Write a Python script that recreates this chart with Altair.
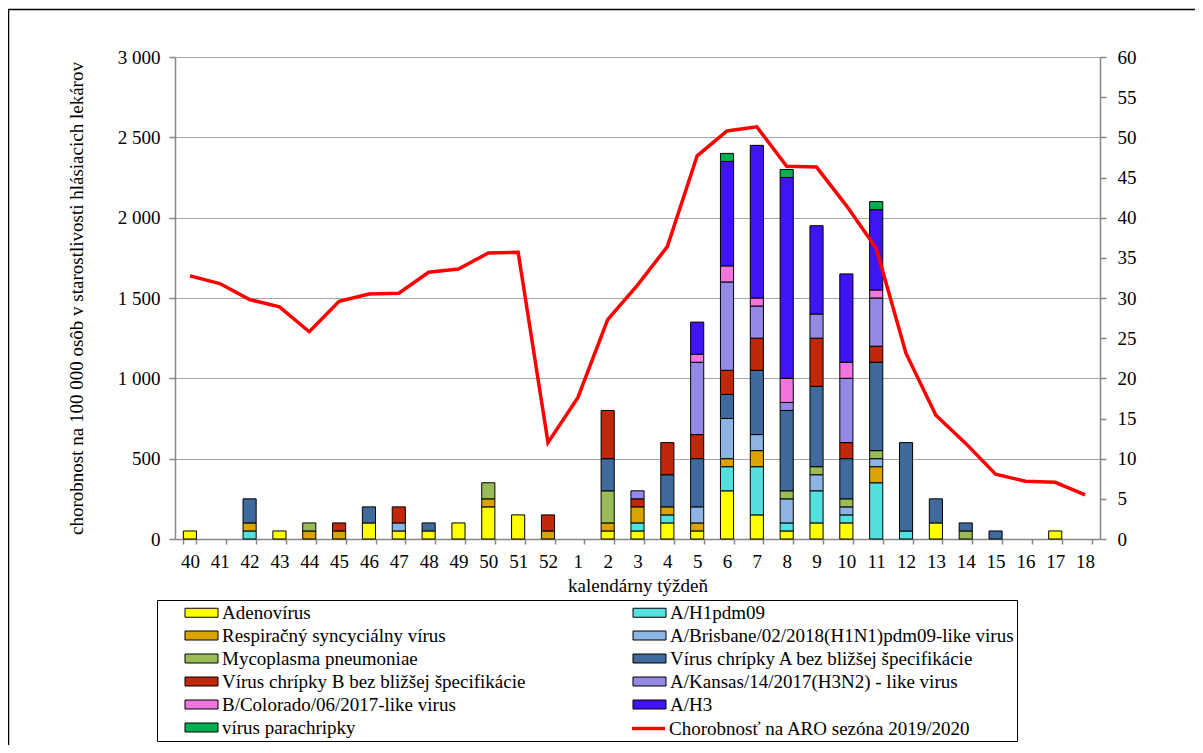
import altair as alt
import pandas as pd

weeks = ["40", "41", "42", "43", "44", "45", "46", "47", "48", "49", "50", "51", "52",
         "1", "2", "3", "4", "5", "6", "7", "8", "9", "10", "11", "12", "13", "14",
         "15", "16", "17", "18"]

series_names = [
    "Adenovírus",
    "A/H1pdm09",
    "Respiračný syncyciálny vírus",
    "A/Brisbane/02/2018(H1N1)pdm09-like virus",
    "Mycoplasma pneumoniae",
    "Vírus chrípky A bez bližšej špecifikácie",
    "Vírus chrípky B bez bližšej špecifikácie",
    "A/Kansas/14/2017(H3N2) - like virus",
    "B/Colorado/06/2017-like virus",
    "A/H3",
    "vírus parachripky",
]
line_name = "Chorobnosť na ARO sezóna 2019/2020"

#                40  41  42  43  44  45  46   47  48  49   50   51   52  1   2    3    4    5    6    7    8     9    10   11   12   13   14  15  16  17  18
adenovirus   = [50,  0,  0, 50,  0,  0, 100, 50, 50, 100, 200, 150,   0, 0,  50,  50, 100,  50, 300, 150,   50, 100, 100,   0,   0, 100,  0,  0,  0, 50,  0]
a_h1pdm09    = [ 0,  0, 50,  0,  0,  0,   0,  0,  0,   0,   0,   0,   0, 0,   0,  50,  50,   0, 150, 300,   50, 200,  50, 350,  50,   0,  0,  0,  0,  0,  0]
rsv          = [ 0,  0, 50,  0, 50, 50,   0,  0,  0,   0,  50,   0,  50, 0,  50, 100,  50,  50,  50, 100,    0,   0,   0, 100,   0,   0,  0,  0,  0,  0,  0]
a_brisbane   = [ 0,  0,  0,  0,  0,  0,   0, 50,  0,   0,   0,   0,   0, 0,   0,   0,   0, 100, 250, 100,  150, 100,  50,  50,   0,   0,  0,  0,  0,  0,  0]
mycoplasma   = [ 0,  0,  0,  0, 50,  0,   0,  0,  0,   0, 100,   0,   0, 0, 200,   0,   0,   0,   0,   0,   50,  50,  50,  50,   0,   0, 50,  0,  0,  0,  0]
virus_a      = [ 0,  0,150,  0,  0,  0, 100,  0, 50,   0,   0,   0,   0, 0, 200,   0, 200, 300, 150, 400,  500, 500, 250, 550, 550, 150, 50, 50,  0,  0,  0]
virus_b      = [ 0,  0,  0,  0,  0, 50,   0,100,  0,   0,   0,   0, 100, 0, 300,  50, 200, 150, 150, 200,    0, 300, 100, 100,   0,   0,  0,  0,  0,  0,  0]
a_kansas     = [ 0,  0,  0,  0,  0,  0,   0,  0,  0,   0,   0,   0,   0, 0,   0,  50,   0, 450, 550, 200,   50, 150, 400, 300,   0,   0,  0,  0,  0,  0,  0]
b_colorado   = [ 0,  0,  0,  0,  0,  0,   0,  0,  0,   0,   0,   0,   0, 0,   0,   0,   0,  50, 100,  50,  150,   0, 100,  50,   0,   0,  0,  0,  0,  0,  0]
a_h3         = [ 0,  0,  0,  0,  0,  0,   0,  0,  0,   0,   0,   0,   0, 0,   0,   0,   0, 200, 650, 950, 1250, 550, 550, 500,   0,   0,  0,  0,  0,  0,  0]
parachripka  = [ 0,  0,  0,  0,  0,  0,   0,  0,  0,   0,   0,   0,   0, 0,   0,   0,   0,   0,  50,   0,   50,   0,   0,  50,   0,   0,  0,  0,  0,  0,  0]

aro_rate = [32.75, 31.8, 29.8, 28.9, 25.8, 29.6, 30.5, 30.6, 33.2, 33.6, 35.6, 35.7, 12.0, 17.6,
            27.3, 31.6, 36.4, 47.7, 50.8, 51.3, 46.4, 46.3, 41.5, 36.2, 23.1, 15.4, 11.9, 8.06,
            7.2, 7.06, 5.48]

series_colors = ["#FFFF00", "#55E0E0", "#DAA400", "#8DB4E2", "#9BBB59", "#406A9C",
                 "#C0280B", "#9589E6", "#F075DC", "#4015F5", "#00B050"]
line_color = "#FF0000"

series_values = [adenovirus, a_h1pdm09, rsv, a_brisbane, mycoplasma, virus_a, virus_b,
                 a_kansas, b_colorado, a_h3, parachripka]

rows = []
for k, (name, vals) in enumerate(zip(series_names, series_values)):
    for w, v in zip(weeks, vals):
        if v > 0:
            rows.append({"week": w, "series": name, "value": v, "k": k})
df_bars = pd.DataFrame(rows)
df_line = pd.DataFrame({"week": weeks, "aro": aro_rate, "series": [line_name] * len(weeks)})

# legend fills column by column: left column = even entries, right column = odd entries
legend_order = series_names[0::2] + series_names[1::2]
legend_colors = series_colors[0::2] + series_colors[1::2]

FONT = "Liberation Serif"
FS = 19
RECT_PATH = "M-3.67,-1H3.67V1H-3.67Z"
LINE_PATH = "M-3.67,0H3.67"

bar_legend = alt.Legend(
    title=None, orient="none", legendX=-18, legendY=543, columns=2,
    symbolType=RECT_PATH, symbolSize=81, symbolOffset=32, labelOffset=11,
    labelFont=FONT, labelFontSize=FS, labelColor="black", labelLimit=700,
    rowPadding=3, columnPadding=82, padding=3, strokeColor="black",
    symbolStrokeWidth=1, symbolStrokeColor="black", symbolOpacity=1,
)

line_legend = alt.Legend(
    title=None, orient="none", legendX=434, legendY=662,
    symbolType=LINE_PATH, symbolSize=81, symbolOffset=30, labelOffset=11,
    labelFont=FONT, labelFontSize=FS, labelColor="black", labelLimit=700,
    padding=0, symbolStrokeWidth=3.5, symbolStrokeColor=line_color,
)

x_enc = alt.X(
    "week:N", sort=weeks,
    scale=alt.Scale(paddingInner=0.56, paddingOuter=0.28),
    axis=alt.Axis(title="kalendárny týždeň", labelAngle=0, tickBand="extent", tickSize=5,
                  labelPadding=8, titlePadding=5, grid=False,
                  labelFont=FONT, titleFont=FONT, labelFontSize=FS, titleFontSize=FS),
)

frame = alt.Chart(pd.DataFrame({"f": [0]})).mark_rect(
    fill="transparent", stroke="black", strokeWidth=1.5
).encode(x=alt.value(-166.5), x2=alt.value(1200), y=alt.value(-47.5), y2=alt.value(800))

bars = alt.Chart(df_bars).mark_bar(stroke="black", strokeWidth=1).encode(
    x=x_enc,
    y=alt.Y("value:Q", stack="zero", scale=alt.Scale(domain=[0, 3000], nice=False),
            axis=alt.Axis(values=list(range(0, 3001, 500)),
                          labelExpr="replace(format(datum.value, ','), ',', ' ')",
                          title="chorobnost na 100 000 osôb v starostlivosti hlásiacich lekárov",
                          titleX=-89, tickSize=6, labelPadding=9, grid=True,
                          labelFont=FONT, titleFont=FONT, labelFontSize=FS, titleFontSize=FS)),
    color=alt.Color("series:N", scale=alt.Scale(domain=legend_order, range=legend_colors),
                    legend=bar_legend),
    order=alt.Order("k:Q", sort="ascending"),
)

line = alt.Chart(df_line).mark_line(strokeWidth=3.5).encode(
    x=x_enc,
    y=alt.Y("aro:Q", scale=alt.Scale(domain=[0, 60], nice=False),
            axis=alt.Axis(orient="right", values=list(range(0, 61, 5)), title=None,
                          grid=False, tickSize=6, labelPadding=11,
                          labelFont=FONT, labelFontSize=FS)),
    stroke=alt.Stroke("series:N", scale=alt.Scale(domain=[line_name], range=[line_color]),
                      legend=line_legend),
)

chart = alt.layer(frame, bars, line).resolve_scale(y="independent").properties(
    width=925, height=482,
    autosize=alt.AutoSizeParams(type="none"),
    padding={"left": 167, "top": 49, "right": 95, "bottom": 206},
    background="white",
).configure(font=FONT).configure_view(strokeWidth=0).configure_axis(
    labelColor="black", titleColor="black", titleFontWeight="normal",
    domainColor="#878787", tickColor="#878787", domainWidth=1.5, tickWidth=1.5,
    gridColor="#a6a6a6", gridWidth=1.2,
)

chart.save("out.html", embed_options={"renderer": "svg", "actions": False})
